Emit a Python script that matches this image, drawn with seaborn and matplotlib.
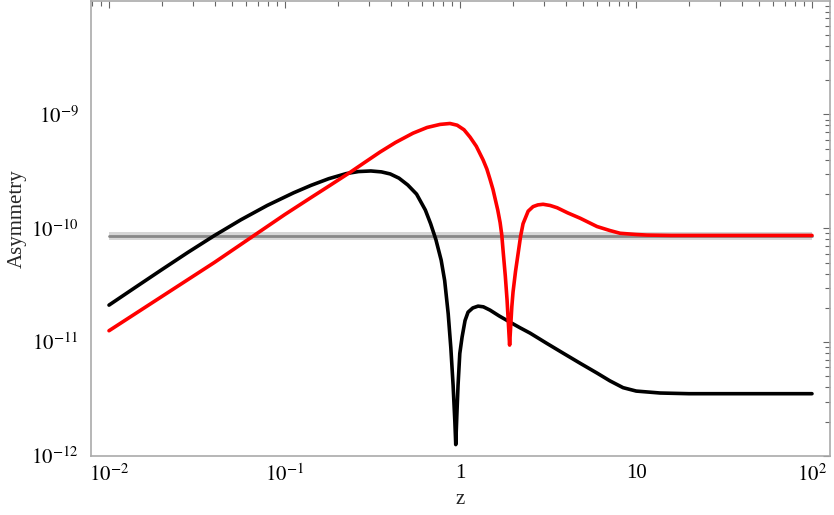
import matplotlib
matplotlib.use("Agg")
import matplotlib.pyplot as plt
import matplotlib.ticker as mticker
import seaborn as sns
import numpy as np

# values, stored as log10(z) and log10(asymmetry)
log_z_black = [-2.00, -1.85, -1.70, -1.55, -1.40, -1.25, -1.10, -0.95, -0.85,
               -0.75, -0.65, -0.58, -0.51, -0.45, -0.40, -0.35, -0.30, -0.25,
               -0.20, -0.17, -0.14, -0.11, -0.09, -0.07, -0.055, -0.042,
               -0.032, -0.027, -0.021, -0.014, -0.004, 0.009, 0.026, 0.043,
               0.07, 0.10, 0.13, 0.168, 0.22, 0.282, 0.34, 0.396, 0.49, 0.584,
               0.68, 0.777, 0.85, 0.925, 1.00, 1.136, 1.30, 2.00]
log_a_black = [-10.675, -10.519, -10.364, -10.211, -10.064, -9.926, -9.800,
               -9.689, -9.623, -9.565, -9.520, -9.502, -9.497, -9.505, -9.523,
               -9.56, -9.62, -9.70, -9.84, -9.96, -10.10, -10.28, -10.46,
               -10.75, -11.05, -11.38, -11.70, -11.90, -11.65, -11.38, -11.10,
               -10.956, -10.81, -10.737, -10.70, -10.684, -10.69, -10.719,
               -10.77, -10.825, -10.875, -10.921, -11.01, -11.097, -11.185,
               -11.272, -11.34, -11.40, -11.43, -11.447, -11.453, -11.453]

log_z_red = [-2.00, -1.80, -1.60, -1.40, -1.20, -1.00, -0.85, -0.742, -0.628,
             -0.55, -0.458, -0.37, -0.27, -0.19, -0.116, -0.06, -0.019, 0.02,
             0.0546, 0.09, 0.1286, 0.15, 0.168, 0.185, 0.197, 0.212, 0.2254,
             0.235, 0.2425, 0.255, 0.265, 0.273, 0.2795, 0.286, 0.292, 0.299,
             0.313, 0.328, 0.342, 0.356, 0.385, 0.413, 0.44, 0.47, 0.51, 0.55,
             0.61, 0.681, 0.777, 0.85, 0.908, 1.00, 1.062, 1.20, 2.00]
log_a_red = [-10.90, -10.70, -10.50, -10.30, -10.09, -9.88, -9.73, -9.623,
             -9.509, -9.427, -9.331, -9.247, -9.165, -9.115, -9.088, -9.080,
             -9.095, -9.135, -9.20, -9.28, -9.40, -9.48, -9.57, -9.66, -9.74,
             -9.84, -9.95, -10.06, -10.20, -10.42, -10.63, -10.85, -11.026,
             -10.85, -10.69, -10.56, -10.38, -10.22, -10.07, -9.96, -9.85,
             -9.81, -9.795, -9.7895, -9.80, -9.82, -9.865, -9.912, -9.985,
             -10.02, -10.044, -10.055, -10.06, -10.063, -10.063]

# observed band
band_z = [0.01, 100.0]
band_center = 8.6e-11
band_low = 7.95e-11
band_high = 9.3e-11

x_ticks = [1e-2, 1e-1, 1, 10, 1e2]
x_labels = [r"$10^{-2}$", r"$10^{-1}$", "1", "10", r"$10^{2}$"]
y_ticks = [1e-12, 1e-11, 1e-10, 1e-9]
y_labels = [r"$10^{-12}$", r"$10^{-11}$", r"$10^{-10}$", r"$10^{-9}$"]

z_black = 10 ** np.array(log_z_black)
a_black = 10 ** np.array(log_a_black)
z_red = 10 ** np.array(log_z_red)
a_red = 10 ** np.array(log_a_red)

sns.set_theme(style="white")
plt.rcParams["font.family"] = ["Liberation Serif", "DejaVu Serif"]
plt.rcParams["mathtext.fontset"] = "stix"

fig = plt.figure(figsize=(8.34, 5.15), dpi=100)
ax = fig.add_axes([0.1091, 0.1146, 0.8861, 0.8844])

# band first, then the curves
ax.fill_between(band_z, band_low, band_high, color="#d6d6d6", lw=0, zorder=1)
sns.lineplot(x=band_z, y=[band_center] * 2, ax=ax, color="#888888", lw=2.0, zorder=2)
sns.lineplot(x=z_black, y=a_black, ax=ax, color="black", lw=2.6,
             sort=False, estimator=None, zorder=3)
sns.lineplot(x=z_red, y=a_red, ax=ax, color="red", lw=2.6,
             sort=False, estimator=None, zorder=4)

ax.set_xscale("log")
ax.set_yscale("log")
ax.set_xlim(10 ** -2.1025, 10 ** 2.1025)
ax.set_ylim(1e-12, 1e-8)

ax.set_xticks(x_ticks)
ax.set_xticklabels(x_labels)
ax.set_yticks(y_ticks)
ax.set_yticklabels(y_labels)
ax.xaxis.set_minor_locator(mticker.LogLocator(base=10, subs=np.arange(2, 10)))
ax.yaxis.set_minor_locator(mticker.LogLocator(base=10, subs=np.arange(2, 10)))
ax.xaxis.set_minor_formatter(mticker.NullFormatter())
ax.yaxis.set_minor_formatter(mticker.NullFormatter())

ax.tick_params(which="both", direction="in", top=True, right=True,
               color="#666666", width=0.8, labelsize=15, labelcolor="black")
ax.tick_params(which="major", length=5)
ax.tick_params(which="minor", length=3.5)
ax.tick_params(axis="y", pad=9)
ax.tick_params(axis="x", pad=6)

for s in ax.spines.values():
    s.set_color("#aaaaaa")
    s.set_linewidth(1.2)
    s.set_visible(True)

ax.set_xlabel("z", fontsize=15)
ax.set_ylabel("Asymmetry", fontsize=15)
ax.xaxis.set_label_coords(0.499, -0.075)
ax.yaxis.set_label_coords(-0.087, 0.522)

fig.savefig("out.png", dpi=100)
